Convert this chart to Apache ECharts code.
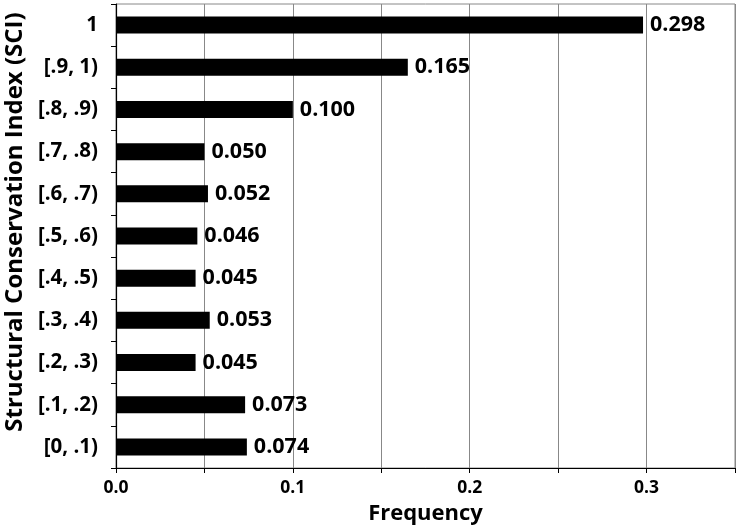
<!DOCTYPE html>
<html><head><meta charset="utf-8">
<script src="https://cdn.jsdelivr.net/npm/echarts@6/dist/echarts.min.js"></script>
<style>html,body{margin:0;padding:0;background:#fff}#c{width:740px;height:529px}</style>
</head><body><div id="c"></div>
<script>
const categories = ['[0, .1)','[.1, .2)','[.2, .3)','[.3, .4)','[.4, .5)','[.5, .6)','[.6, .7)','[.7, .8)','[.8, .9)','[.9, 1)','1'];
const frequency = [0.074,0.073,0.045,0.053,0.045,0.046,0.052,0.050,0.100,0.165,0.298];
const xTickLabels = {'0':'0.0','0.1':'0.1','0.2':'0.2','0.3':'0.3'};
const font = '"Open Sans", "Liberation Sans", sans-serif';
const chart = echarts.init(document.getElementById('c'));
chart.setOption({
  animation:false,
  grid:{left:116,right:5,top:4,bottom:61,containLabel:false,outerBoundsMode:'none',show:true,borderColor:'#888',borderWidth:1},
  xAxis:{type:'value',min:0,max:0.35,interval:0.05,
    name:'Frequency',nameLocation:'middle',nameGap:35,
    nameTextStyle:{fontFamily:font,fontWeight:'bold',fontSize:22,color:'#000'},
    axisLine:{show:true,lineStyle:{color:'#000',width:1.2}},
    axisTick:{show:true,length:5,lineStyle:{color:'#000'}},
    axisLabel:{fontFamily:font,fontWeight:'bold',fontSize:17.5,color:'#000',margin:11,
      formatter:v=>{const k=String(Math.round(v*100)/100);return xTickLabels[k]||'';}},
    splitLine:{show:true,lineStyle:{color:'#888',width:1}}},
  yAxis:{type:'category',data:categories,
    name:'Structural Conservation Index (SCI)',nameLocation:'middle',nameGap:87,
    nameTextStyle:{fontFamily:font,fontWeight:'bold',fontSize:24,color:'#000',padding:[0,0,0,28]},
    axisLine:{show:true,lineStyle:{color:'#000',width:1.2}},
    axisTick:{show:true,length:5,lineStyle:{color:'#000'}},
    axisLabel:{fontFamily:font,fontWeight:'bold',fontSize:20.5,color:'#000',margin:18},
    splitLine:{show:false}},
  series:[{type:'bar',data:frequency,barWidth:17,itemStyle:{color:'#000'},
    label:{show:true,position:'right',distance:7,fontFamily:font,fontWeight:'bold',fontSize:21.5,color:'#000',
      formatter:p=>p.value.toFixed(3)}}]
});
</script></body></html>
